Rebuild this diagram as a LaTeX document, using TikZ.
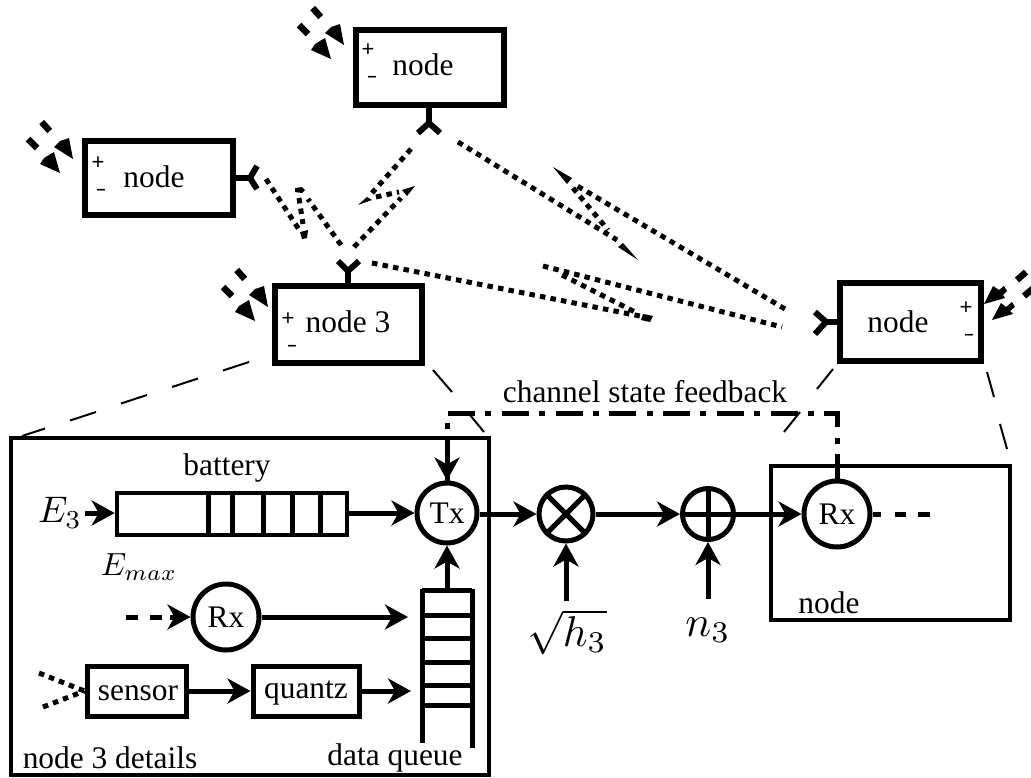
\documentclass[tikz,border=0pt]{standalone}
\usepackage{fontspec}
\setmainfont{Liberation Serif}
\newfontfamily\sgnfont{Liberation Sans}
\usetikzlibrary{arrows.meta}
\tikzset{
  x=1pt,y=-1pt,
  txt/.style={inner sep=0pt,font=\fontsize{31.4}{36}\selectfont},
  radio/.style={draw,line width=6.5pt,rectangle,inner sep=0pt},
  blk/.style={draw,line width=5pt,rectangle,inner sep=0pt},
  circ/.style={draw,line width=5pt,circle,inner sep=0pt},
  ant/.style={line width=6pt},
  link/.style={line width=5pt,dash pattern=on 5.5pt off 5.2pt},
  zoomln/.style={line width=2pt},
  flow/.style={line width=5pt,-{Stealth[length=23pt,width=25pt,inset=7pt]}},
  tiph/.style={fill=black,draw=none},
  esrc/.style={line width=6.5pt},
}
\begin{document}
\begin{tikzpicture}
\useasboundingbox (0,0) rectangle (1031,777);
% radio nodes
\node[radio,minimum width=148pt,minimum height=75pt] (top) at (430,67.5) {};
\node[radio,minimum width=148pt,minimum height=74pt] (left) at (159,178) {};
\node[radio,minimum width=147pt,minimum height=77pt] (n3) at (348.5,324.5) {};
\node[radio,minimum width=141pt,minimum height=78pt] (right) at (910.5,322) {};
\node[txt] at (423,65) {node};
\node[txt] at (154,177) {node};
\node[txt] at (348,322) {node 3};
\node[txt] at (898,322) {node};
\foreach \px/\py/\mx/\my in {368/50/372/79,98/163/101/192,288/319/292/348,966/308/969/337}{
  \node[inner sep=0pt,font=\sgnfont\fontsize{22}{22}\selectfont] at (\px,\py) {+};
  \node[inner sep=0pt,font=\sgnfont\bfseries\fontsize{16}{16}\selectfont] at (\mx,\my) {–};
}
% antennas
\coordinate (topf) at (429,123);
\coordinate (leftf) at (250,178);
\coordinate (n3f) at (348,271);
\coordinate (rightf) at (826,322);
\draw[ant] (top.south -| topf) -- (topf);
\draw[ant] (418,133) -- (topf) -- (440,133);
\draw[ant] (left.east |- leftf) -- (leftf);
\draw[ant] (257,166) -- (leftf) -- (257,189);
\draw[ant] (n3.north -| n3f) -- (n3f);
\draw[ant] (338,261) -- (n3f) -- (359,261);
\draw[ant] (right.west |- rightf) -- (rightf);
\draw[ant] (815,312) -- (rightf) -- (815,334);
% energy arrows
\foreach \dx/\dy in {0/0,-271/114,-76/262}{
  \begin{scope}[shift={(\dx,\dy)}]
    \draw[esrc] (312.7,8) -- (320.7,17);
    \draw[esrc] (299,25) -- (308,34);
    \fill[tiph] (344,45) -- (340,24) -- (331,27) -- (325,33) -- cycle;
    \fill[tiph] (331,59) -- (311,50) -- (315,44) -- (325,38) -- cycle;
  \end{scope}
}
\begin{scope}
  \clip (0,0) rectangle (1031,777);
  \draw[esrc] (1017,280) -- (1026,272);
  \draw[esrc] (1024,296) -- (1036,286);
  \fill[tiph] (984,304) -- (993,286) -- (999,290) -- (1004,286) -- (1007,291) -- (1003,295) -- (1005,298) -- cycle;
  \fill[tiph] (992,320) -- (1001,303) -- (1006,307) -- (1012,302) -- (1015,307) -- (1010,311) -- (1013,314) -- cycle;
\end{scope}
% wireless links: top -- node 3
\draw[link] (411,149) -- (372,193);
\draw[link] (376,197) -- (399,192);
\draw[link] (354,247) -- (401,198);
\fill[tiph] (358,205) -- (367,197) -- (372,200) -- cycle;
\fill[tiph] (415,186) -- (402,190) -- (407,196) -- cycle;
% left -- node 3
\draw[link] (266,179) -- (300,231);
\draw[link] (341,245) -- (308,199);
\draw[link] (299,198) -- (303,224);
\fill[tiph] (300,232) -- (308,230) -- (307,238) -- (302,239) -- cycle;
\fill[tiph] (295,188) -- (302,187) -- (305,190) -- (302,193) -- (295,192) -- cycle;
% top -- right
\draw[link] (458,142) -- (617,240);
\draw[link] (785,309) -- (574,184);
\draw[link] (573,188) -- (608,230);
\fill[tiph] (638,260) -- (618,247) -- (623,243) -- cycle;
\fill[tiph] (553,167) -- (567,184) -- (572,178) -- cycle;
% node 3 -- right
\draw[link] (372,263) -- (650,318);
\draw[link] (543,266) -- (782,327);
\draw[link] (562,275) -- (637,313);
\fill[tiph] (643,314) -- (653,316) -- (650,322) -- (641,320) -- cycle;
% zoom lines
\draw[zoomln] (249,362) -- (223,370.5);
\draw[zoomln] (198,378.5) -- (172,387);
\draw[zoomln] (147,395) -- (121,403.5);
\draw[zoomln] (96,412) -- (70,420.5);
\draw[zoomln] (45,428.5) -- (22,436);
\draw[zoomln] (433,370) -- (452,392);
\draw[zoomln] (470,415) -- (484,432);
\draw[zoomln] (833,369) -- (817,389);
\draw[zoomln] (800,412) -- (784,432);
\draw[zoomln] (987,372) -- (994,397);
\draw[zoomln] (1000,424) -- (1007,449);
% node 3 detail box
\node[draw,line width=3.5pt,rectangle,inner sep=0pt,minimum width=478pt,minimum height=337pt] (det) at (250,606.5) {};
\node[txt] at (110,758) {node 3 details};
\node[txt] at (395,758) {data queue};
\node[txt] at (227,468) {battery};
\node[inner sep=0pt,scale=3.7] at (60,513) {$E_3$};
\node[inner sep=0pt,scale=3.2] at (139,567) {$E_{max}$};
% battery
\node[draw,line width=4.5pt,rectangle,inner sep=0pt,minimum width=230pt,minimum height=42pt] (bat) at (232,514) {};
\foreach \bx in {208,232,263,292,320}{ \draw[line width=5pt] (\bx,493) -- (\bx,535); }
% queue
\foreach \qy in {590,615,638,662,685,705}{ \draw[line width=5pt] (422,\qy) -- (472,\qy); }
\draw[line width=5pt] (422,589) -- (422,743);
\draw[line width=5pt] (472,589) -- (472,748);
\coordinate (qtop) at (447,589);
\coordinate (qin1) at (408,617);
\coordinate (qin2) at (411,691);
% circles
\node[circ,minimum size=60pt,font=\fontsize{31.4}{36}\selectfont] (tx) at (447,513) {Tx};
\node[circ,minimum size=66pt,font=\fontsize{31.4}{36}\selectfont] (rxa) at (226,617) {Rx};
\node[circ,minimum size=66pt,font=\fontsize{31.4}{36}\selectfont] (rxb) at (837,514) {Rx};
\node[circ,minimum size=54pt] (mul) at (566,514) {};
\node[circ,minimum size=51pt] (add) at (708,514) {};
\draw[line width=5pt] (mul.north west) -- (mul.south east);
\draw[line width=5pt] (mul.north east) -- (mul.south west);
\draw[line width=5pt] (add.north) -- (add.south);
\draw[line width=5pt] (add.west) -- (add.east);
% sensor chain
\node[blk,minimum width=99pt,minimum height=50pt] (sen) at (136.5,691) {};
\node[blk,minimum width=106pt,minimum height=50pt] (qua) at (306,691) {};
\node[txt] at (138,693) {sensor};
\node[txt] at (306,693) {quantz};
\coordinate (d1) at (39,673);
\coordinate (d2) at (43,707);
\draw[link] (d1) -- (sen.west);
\draw[link] (d2) -- (sen.west);
% flows
\coordinate (e3s) at (85,513);
\draw[flow] (e3s) -- (bat.west |- e3s);
\draw[flow] (bat.east |- tx) -- (tx.west);
\draw[flow] (qtop) -- (tx.south);
\draw[flow] (rxa.east) -- (qin1);
\draw[flow] (sen.east) -- (qua.west);
\draw[flow] (qua.east) -- (qin2);
\draw[flow] (tx.east |- mul) -- (mul.west);
\draw[flow] (mul.east) -- (add.west);
\draw[flow] (add.east) -- (rxb.west);
\coordinate (hs) at (566,601);
\coordinate (ns) at (708,599);
\draw[flow] (hs) -- (mul.south);
\draw[flow] (ns) -- (add.south);
\coordinate (ds) at (126,617);
\draw[line width=5pt,dash pattern=on 12pt off 12pt] (ds) -- (170,617);
\draw[flow,shorten <=44pt] (ds) -- (rxa.west);
\coordinate (de) at (930,514);
\draw[line width=5pt,dash pattern=on 8pt off 14pt on 11pt off 12pt on 12pt off 12pt] (rxb.east) -- (de);
\node[inner sep=0pt,scale=4.3] at (567,632) {$\sqrt{h_3}$};
\node[inner sep=0pt,scale=4.3] at (708,630) {$n_3$};
% receiver box
\node[draw,line width=4.5pt,rectangle,inner sep=0pt,minimum width=239pt,minimum height=154pt] (rbox) at (890.5,543) {};
\node[txt] at (829,603) {node};
% feedback
\coordinate (fbr) at (837,413);
\coordinate (fbl) at (447,413);
\draw[line width=5pt,dash pattern=on 27pt off 10.5pt on 6pt off 10.25pt,dash phase=2.5pt] (rxb.north) -- (fbr) -- (fbl) -- (tx.north);
\draw[flow,shorten <=23pt] (fbl) -- (tx.north);
\node[txt] at (645,392) {channel state feedback};
\end{tikzpicture}
\end{document}
